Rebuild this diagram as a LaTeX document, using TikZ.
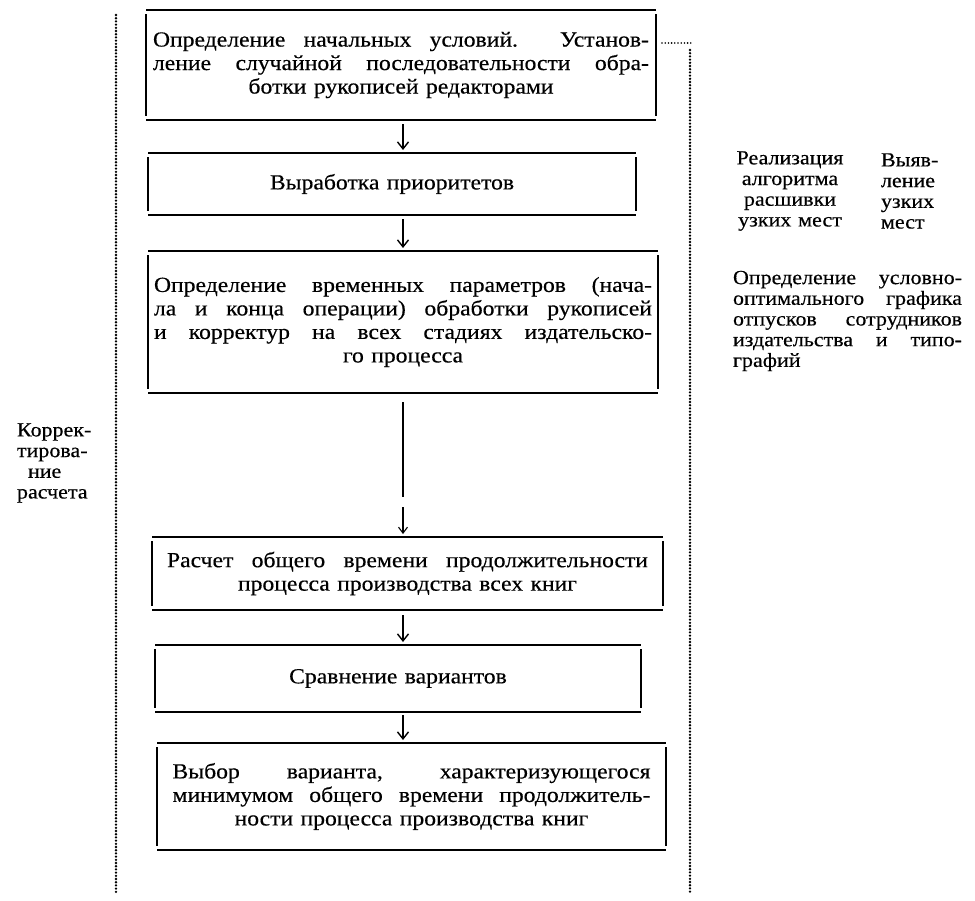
\documentclass[tikz,border=0pt]{standalone}
\usepackage{fontspec}
\setmainfont{Liberation Serif}[FakeStretch=1.1,FakeBold=0.4,WordSpace=1.25]
\usetikzlibrary{arrows.meta,calc}
\newcommand\boxfnt{\fontsize{21.5}{23.5}\selectfont}
\newcommand\sidefnt{\fontsize{20}{20.7}\selectfont}
\newcommand\jline[2]{\makebox[#1][s]{#2}}
\begin{document}
\begin{tikzpicture}[x=1pt,y=-1pt,
  box/.style={inner sep=0pt, outer sep=0pt, font=\boxfnt, align=center},
  side/.style={inner sep=0pt, outer sep=0pt, font=\sidefnt},
  hrule/.style={line width=2.4pt},
  vrule/.style={line width=1.7pt},
  arr/.style={line width=1.4pt, -{Straight Barb[length=7pt,width=11pt]}},
  thinarr/.style={line width=1.1pt, -{Straight Barb[length=6pt,width=9pt]}},
  thinline/.style={line width=1.1pt},
  dotline/.style={line width=2.6pt, line cap=round, dash pattern=on 0pt off 3.2pt}]
\useasboundingbox (0,0) rectangle (975,900);

% boxes
\node[box, minimum width=510pt, minimum height=110pt] (b1) at (401,65)
  {\jline{496pt}{Определение начальных условий. Установ-}\\
   \jline{496pt}{ление случайной последовательности обра-}\\
   ботки рукописей редакторами};
\node[box, minimum width=488pt, minimum height=62pt] (b2) at (392,184)
  {Выработка приоритетов};
\node[box, minimum width=510pt, minimum height=142pt] (b3) at (403,322)
  {\jline{498pt}{Определение временных параметров (нача-}\\
   \jline{498pt}{ла и конца операции) обработки рукописей}\\
   \jline{498pt}{и корректур на всех стадиях издательско-}\\
   го процесса};
\node[box, minimum width=511pt, minimum height=73pt] (b4) at (407.5,573.5)
  {\jline{481pt}{Расчет общего времени продолжительности}\\
   процесса производства всех книг};
\node[box, minimum width=486pt, minimum height=67pt] (b5) at (398,678.5)
  {Сравнение вариантов};
\node[box, minimum width=509pt, minimum height=107pt] (b6) at (411.5,796.5)
  {\jline{478pt}{Выбор варианта, характеризующегося}\\
   \jline{478pt}{минимумом общего времени продолжитель-}\\
   ности процесса производства книг};

\foreach \b in {b1,b2,b3,b4,b5,b6}{
  \draw[hrule] (\b.north west) -- (\b.north east);
  \draw[hrule] (\b.south west) -- (\b.south east);
  \draw[vrule] ($(\b.north west)+(0,-4pt)$) -- ($(\b.south west)+(0,4pt)$);
  \draw[vrule] ($(\b.north east)+(0,-4pt)$) -- ($(\b.south east)+(0,4pt)$);
}

% arrows
\coordinate (ax) at (403,0);
\draw[arr] ($(b1.south -| ax)+(0,-4pt)$) -- ($(b2.north -| ax)+(0,3pt)$);
\draw[arr] ($(b2.south -| ax)+(0,-4pt)$) -- ($(b3.north -| ax)+(0,3pt)$);
\draw[thinline] ($(b3.south -| ax)+(0,-9pt)$) -- ($(b4.north -| ax)+(0,40pt)$);
\draw[thinarr] ($(b4.north -| ax)+(0,30pt)$) -- ($(b4.north -| ax)+(0,3pt)$);
\draw[arr] ($(b4.south -| ax)+(0,-5pt)$) -- ($(b5.north -| ax)+(0,3pt)$);
\draw[arr] ($(b5.south -| ax)+(0,-3pt)$) -- ($(b6.north -| ax)+(0,3pt)$);

% dotted feedback lines
\coordinate (l0) at (116,15);
\coordinate (l1) at (116,893);
\coordinate (r0) at (662,43);
\coordinate (r1) at (691,43);
\coordinate (r2) at (690,50);
\coordinate (r3) at (690,893);
\draw[dotline] (l0) -- (l1);
\draw[dotline, line width=1.8pt] (r0) -- (r1);
\draw[dotline] (r2) -- (r3);

% side texts
\node[side, anchor=west, align=left] (corr) at (17,463)
  {Коррек-\\тирова-\\\hspace*{11pt}ние\\расчета};
\node[side, align=center] (real) at (790,191)
  {Реализация\\алгоритма\\расшивки\\узких мест};
\node[side, anchor=west, align=left] (ident) at (881,191)
  {Выяв-\\ление\\узких\\мест};
\node[side, anchor=west, align=left] (vac) at (733,321)
  {\jline{229pt}{Определение условно-}\\
   \jline{229pt}{оптимального графика}\\
   \jline{229pt}{отпусков сотрудников}\\
   \jline{229pt}{издательства и типо-}\\
   графий};
\end{tikzpicture}
\end{document}
